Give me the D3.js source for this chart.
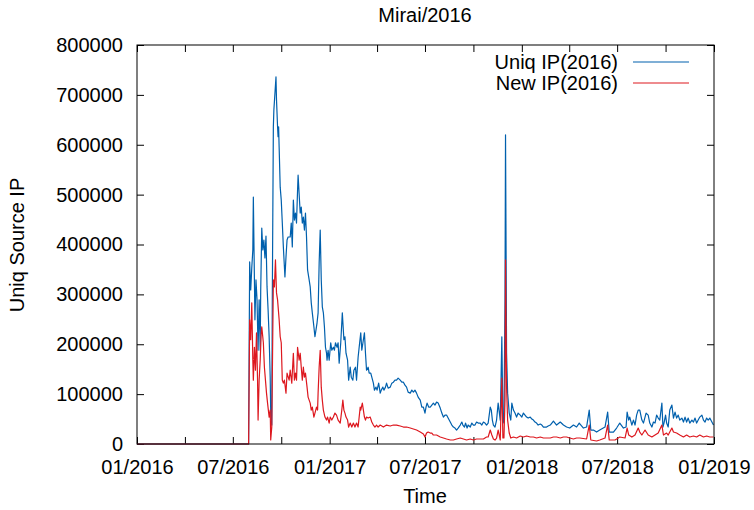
<!DOCTYPE html>
<html>
<head>
<meta charset="utf-8">
<script src="https://cdn.jsdelivr.net/npm/d3@7"></script>
<style>
  body { margin: 0; background: #fff; }
  svg text { font-family: "Liberation Sans", Arial, sans-serif; fill: #000; }
</style>
</head>
<body>
<svg id="chart" width="754" height="510"></svg>
<script>
// days since 2016-01-01, values in thousands of IPs
const uniqDays = [0,212,214,216,218,220,221,224,226,228,230,232,234,235,237,239,241,243,245,247,249,251,253,254,256,257,259,260,264,265,267,268,269,270,272,274,276,278,280,281,283,285,287,291,293,295,297,299,301,303,305,306,310,312,314,316,318,320,322,324,327,329,331,333,336,338,340,342,344,346,348,350,352,354,356,358,360,361,363,365,368,370,373,375,377,380,382,384,387,390,393,395,397,400,402,405,407,410,412,415,417,420,422,425,427,430,432,434,436,439,441,444,446,449,451,454,456,459,462,464,467,469,472,474,477,481,484,487,490,493,496,500,503,506,509,512,515,519,522,525,528,531,534,538,541,544,547,549,551,554,557,560,563,566,569,572,576,579,582,585,588,591,595,598,601,604,607,610,614,617,619,622,624,627,629,633,636,639,642,645,648,652,655,658,661,664,667,671,673,675,677,680,683,686,690,693,695,697,699,700,702,704,707,710,712,715,718,721,724,728,731,734,737,740,743,747,750,753,756,759,762,766,769,772,775,778,781,785,791,797,804,810,816,822,829,835,840,848,854,859,862,867,873,879,889,894,897,905,911,917,924,929,931,934,936,940,943,946,949,952,955,959,962,967,971,974,978,981,984,987,990,993,997,999,1001,1004,1006,1009,1012,1016,1019,1022,1025,1028,1031,1035,1038,1041,1044,1047,1050,1054,1057,1060,1063,1066,1069,1073,1076,1079,1082,1085,1088,1092,1095];
const uniqK = [0,0,365,309,353,389,495,249,329,289,188,289,188,309,433,389,409,373,417,315,269,215,134,62,38,289,636,670,736,690,636,616,636,595,515,489,443,395,355,335,375,409,415,415,443,395,489,449,463,443,509,539,463,475,443,455,429,463,415,349,329,315,283,263,235,215,229,243,263,363,429,329,275,263,235,194,182,168,188,168,203,188,194,188,203,194,203,162,203,263,209,215,182,168,128,154,134,128,148,154,128,174,194,223,188,209,223,182,148,154,142,142,134,122,108,114,108,122,102,108,114,108,114,122,112,114,122,124,128,128,132,128,124,124,118,114,104,102,108,104,108,102,94,88,74,74,62,74,82,74,74,78,82,78,84,82,72,62,54,58,58,52,44,38,34,32,28,32,38,44,38,34,42,32,38,34,42,38,38,44,42,42,38,44,42,38,42,74,68,48,38,34,48,82,48,215,48,42,289,620,182,102,62,48,82,68,62,54,62,58,54,62,58,54,52,54,50,48,44,42,38,40,38,34,34,34,36,38,46,38,44,38,34,32,38,34,42,32,34,68,28,28,24,28,34,64,24,24,32,42,32,34,64,48,54,38,48,38,58,68,68,48,42,62,58,42,34,44,42,58,52,48,82,34,42,58,42,34,68,78,52,64,52,58,48,52,44,54,44,52,42,48,44,52,42,48,54,58,48,44,52,48,52,44,38];

const newDays = [0,212,214,216,218,220,221,223,225,227,229,230,232,234,236,237,240,242,244,246,248,251,253,254,256,259,261,263,265,267,270,272,274,276,278,280,283,285,289,291,294,297,299,301,303,305,308,310,312,314,316,318,320,323,325,329,331,333,336,338,341,343,344,346,348,350,352,354,357,360,362,365,367,370,373,376,379,382,386,389,391,393,395,397,400,402,405,408,411,414,417,420,424,425,428,430,432,434,436,439,443,446,449,452,455,458,462,468,474,481,487,493,500,506,512,519,525,531,538,544,547,550,553,557,560,563,569,576,582,588,595,601,607,614,620,626,633,639,645,652,658,664,667,671,674,677,680,683,686,690,693,695,697,699,700,702,704,707,710,715,721,728,734,740,747,753,759,766,772,778,785,791,797,804,810,816,822,829,835,841,854,859,862,873,879,889,894,897,908,917,927,931,934,940,946,952,955,959,965,971,978,984,990,997,1000,1006,1009,1016,1019,1025,1031,1038,1044,1050,1057,1063,1069,1076,1082,1088,1095];
const newK = [0,0,249,209,283,168,128,194,148,223,128,48,128,168,223,235,203,154,128,102,82,54,68,8,34,329,315,369,303,289,249,215,203,128,122,128,102,142,128,148,122,182,128,142,128,194,168,182,154,128,154,134,142,114,94,82,68,74,54,62,74,68,102,154,188,114,88,68,54,48,54,42,54,48,54,62,58,48,42,68,88,68,62,54,48,34,42,34,42,34,42,34,74,68,82,68,54,48,54,52,54,44,38,34,38,34,38,34,38,36,38,38,36,34,34,32,30,28,24,20,14,22,24,22,22,18,18,14,12,10,8,8,10,12,10,8,10,8,10,10,10,14,14,28,18,10,8,12,28,8,132,12,12,88,369,114,48,22,12,14,12,16,14,16,14,14,12,14,12,12,12,14,14,12,14,14,12,10,12,12,10,38,8,6,8,12,38,8,8,14,12,32,18,14,18,32,24,18,28,18,14,18,22,38,18,22,18,32,24,22,18,14,18,14,16,14,18,14,16,14,14];

const yTicks = [0,100000,200000,300000,400000,500000,600000,700000,800000];
const seriesNames = ["Uniq IP(2016)", "New IP(2016)"];
const seriesColors = ["#0060ad", "#dd181f"];

const start = new Date(2016, 0, 1);
const toSeries = (days, vals) => days.map((d, i) => ({ date: d3.timeDay.offset(start, d), value: vals[i] * 1000 }));
const uniq = toSeries(uniqDays, uniqK);
const fresh = toSeries(newDays, newK);

const plotL = 137, plotR = 714, plotT = 45, plotB = 444;
const svg = d3.select('#chart');

const x = d3.scaleTime().domain([start, new Date(2019, 0, 1)]).range([plotL, plotR]);
const y = d3.scaleLinear().domain([0, 800000]).range([plotB, plotT]);

const monthTicks = d3.timeMonth.every(3).range(start, new Date(2019, 0, 2));
const fmt = d3.timeFormat('%m/%Y');

// axes, ticks pointing inward, mirrored on top/right
svg.append('g').attr('transform', `translate(0,${plotB})`)
	.call(d3.axisBottom(x).tickValues(monthTicks).tickSize(-7).tickPadding(16)
		.tickFormat(d => d.getMonth() % 6 === 0 ? fmt(d) : ''));
svg.append('g').attr('transform', `translate(0,${plotT})`)
	.call(d3.axisTop(x).tickValues(monthTicks).tickSize(-7).tickFormat(''));
svg.append('g').attr('transform', `translate(${plotL},0)`)
	.call(d3.axisLeft(y).tickValues(yTicks).tickSize(-7).tickPadding(14).tickFormat(d3.format('d')));
svg.append('g').attr('transform', `translate(${plotR},0)`)
	.call(d3.axisRight(y).tickValues(yTicks).tickSize(-7).tickFormat(''));

svg.selectAll('.domain').remove();
svg.selectAll('.tick line').attr('stroke', '#000').attr('stroke-width', 1);
svg.selectAll('.tick text').style('font-size', '20px').attr('fill', '#000');

const line = d3.line().x(d => x(d.date)).y(d => y(d.value));
[uniq, fresh].forEach((s, i) => {
	svg.append('path').datum(s)
		.attr('fill', 'none')
		.attr('stroke', seriesColors[i])
		.attr('stroke-width', 1.2)
		.attr('stroke-linejoin', 'round')
		.attr('d', line);
});

svg.append('rect')
	.attr('x', plotL).attr('y', plotT)
	.attr('width', plotR - plotL).attr('height', plotB - plotT)
	.attr('fill', 'none').attr('stroke', '#000').attr('stroke-width', 1);

// legend
seriesNames.forEach((name, i) => {
	const ly = 62 + i * 21;
	svg.append('text').attr('x', 618).attr('y', ly + 7)
		.attr('text-anchor', 'end').style('font-size', '20px').text(name);
	svg.append('line').attr('x1', 633).attr('x2', 689).attr('y1', ly).attr('y2', ly)
		.attr('stroke', seriesColors[i]).attr('stroke-width', 1.2);
});

svg.append('text').attr('x', 425).attr('y', 22).attr('text-anchor', 'middle')
	.style('font-size', '20px').text('Mirai/2016');
svg.append('text').attr('x', 425).attr('y', 503).attr('text-anchor', 'middle')
	.style('font-size', '20px').text('Time');
svg.append('text').attr('transform', 'translate(24,245) rotate(-90)').attr('text-anchor', 'middle')
	.style('font-size', '20px').text('Uniq Source IP');
</script>
</body>
</html>
